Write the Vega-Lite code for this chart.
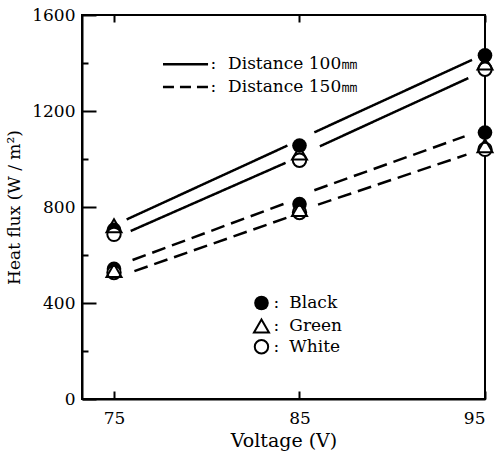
{
  "$schema": "https://vega.github.io/schema/vega-lite/v6.json",
  "width": 403,
  "height": 384,
  "autosize": "none",
  "padding": {"left": 82, "top": 15, "right": 15, "bottom": 55},
  "background": "white",
  "config": {
    "font": "DejaVu Serif",
    "view": {"stroke": "black", "strokeWidth": 2},
    "axis": {"grid": false, "labelColor": "black", "titleColor": "black", "tickColor": "black", "domainColor": "black", "labelFont": "DejaVu Serif", "titleFont": "DejaVu Serif", "titleFontWeight": "normal"}
  },
  "datasets": {
    "lines": [
      {"seg": "u100a", "style": "solid", "v": 75.68, "q": 748},
      {"seg": "u100a", "style": "solid", "v": 84.35, "q": 1056},
      {"seg": "u100b", "style": "solid", "v": 85.8, "q": 1111},
      {"seg": "u100b", "style": "solid", "v": 94.3, "q": 1413},
      {"seg": "l100a", "style": "solid", "v": 75.9, "q": 700},
      {"seg": "l100a", "style": "solid", "v": 84.25, "q": 984},
      {"seg": "l100b", "style": "solid", "v": 86.1, "q": 1053},
      {"seg": "l100b", "style": "solid", "v": 94.1, "q": 1337},
      {"seg": "u150a", "style": "dash", "v": 76.0, "q": 579},
      {"seg": "u150a", "style": "dash", "v": 84.3, "q": 817},
      {"seg": "u150b", "style": "dash", "v": 85.8, "q": 870},
      {"seg": "u150b", "style": "dash", "v": 93.9, "q": 1094},
      {"seg": "l150a", "style": "dash", "v": 76.1, "q": 533},
      {"seg": "l150a", "style": "dash", "v": 84.35, "q": 756},
      {"seg": "l150b", "style": "dash", "v": 86.0, "q": 810},
      {"seg": "l150b", "style": "dash", "v": 94.0, "q": 1018},
      {"seg": "leg100", "style": "solid", "v": 77.64, "q": 1395},
      {"seg": "leg100", "style": "solid", "v": 80.07, "q": 1395},
      {"seg": "leg150", "style": "legdash", "v": 77.64, "q": 1300},
      {"seg": "leg150", "style": "legdash", "v": 80.07, "q": 1300}
    ],
    "pts": [
      {"v": 75, "q": 705, "c": "Black"},
      {"v": 75, "q": 722, "c": "Green"},
      {"v": 75, "q": 686, "c": "White"},
      {"v": 75, "q": 542, "c": "Black"},
      {"v": 75, "q": 535, "c": "Green"},
      {"v": 75, "q": 527, "c": "White"},
      {"v": 85, "q": 1056, "c": "Black"},
      {"v": 85, "q": 1025, "c": "Green"},
      {"v": 85, "q": 995, "c": "White"},
      {"v": 85, "q": 812, "c": "Black"},
      {"v": 85, "q": 790, "c": "Green"},
      {"v": 85, "q": 777, "c": "White"},
      {"v": 95, "q": 1432, "c": "Black"},
      {"v": 95, "q": 1400, "c": "Green"},
      {"v": 95, "q": 1374, "c": "White"},
      {"v": 95, "q": 1110, "c": "Black"},
      {"v": 95, "q": 1055, "c": "Green"},
      {"v": 95, "q": 1040, "c": "White"},
      {"v": 82.95, "q": 400, "c": "Black"},
      {"v": 82.95, "q": 304, "c": "Green"},
      {"v": 82.95, "q": 218, "c": "White"}
    ],
    "labels": [
      {"v": 80.2, "q": 1395, "t": ":"},
      {"v": 81.15, "q": 1395, "t": "Distance 100㎜"},
      {"v": 80.2, "q": 1300, "t": ":"},
      {"v": 81.15, "q": 1300, "t": "Distance 150㎜"},
      {"v": 83.6, "q": 400, "t": ":"},
      {"v": 84.45, "q": 400, "t": "Black"},
      {"v": 83.6, "q": 304, "t": ":"},
      {"v": 84.45, "q": 304, "t": "Green"},
      {"v": 83.6, "q": 218, "t": ":"},
      {"v": 84.45, "q": 218, "t": "White"}
    ]
  },
  "layer": [
    {
      "data": {"name": "lines"},
      "mark": {"type": "line", "color": "black", "strokeWidth": 2.5, "strokeCap": "butt"},
      "encoding": {
        "x": {"field": "v", "type": "quantitative", "scale": {"domain": [73.275, 95], "nice": false, "zero": false},
          "axis": {"orient": "bottom", "values": [75, 85, 95], "format": "d", "tickSize": -8, "tickWidth": 2, "domainWidth": 2, "labelFontSize": 17, "labelPadding": 19, "title": "Voltage (V)", "titleFontSize": 19, "titlePadding": 5}},
        "y": {"field": "q", "type": "quantitative", "scale": {"domain": [0, 1600], "nice": false},
          "axis": {"orient": "left", "values": [0, 400, 800, 1200, 1600], "format": "d", "tickSize": -14, "tickWidth": 2, "domainWidth": 2, "labelFontSize": 17, "labelPadding": 21, "title": "Heat flux (W / m²)", "titleFontSize": 17, "titlePadding": 8}},
        "detail": {"field": "seg", "type": "nominal"},
        "strokeDash": {"field": "style", "type": "nominal", "legend": null,
          "scale": {"domain": ["solid", "dash", "legdash"], "range": [[1, 0], [14, 7], [11, 6]]}}
      }
    },
    {
      "data": {"name": "pts"},
      "transform": [{"filter": "datum.c === 'Black'"}],
      "mark": {"type": "point", "shape": "circle", "filled": true, "fill": "black", "stroke": "black", "strokeWidth": 0, "size": 214, "opacity": 1},
      "encoding": {
        "x": {"field": "v", "type": "quantitative", "scale": {"domain": [73.275, 95], "nice": false, "zero": false},
          "axis": {"orient": "top", "values": [75, 85, 95], "labels": false, "domain": false, "tickSize": -7, "tickWidth": 2, "title": null}},
        "y": {"field": "q", "type": "quantitative", "scale": {"domain": [0, 1600], "nice": false},
          "axis": {"orient": "left", "values": [200, 600, 1000, 1400], "labels": false, "domain": false, "tickSize": -6, "tickWidth": 2, "title": null}}
      }
    },
    {
      "data": {"name": "pts"},
      "transform": [{"filter": "datum.c === 'White'"}],
      "mark": {"type": "point", "shape": "circle", "filled": false, "fill": "white", "fillOpacity": 1, "stroke": "black", "strokeWidth": 2, "size": 180, "opacity": 1},
      "encoding": {
        "x": {"field": "v", "type": "quantitative", "axis": null},
        "y": {"field": "q", "type": "quantitative", "axis": null}
      }
    },
    {
      "data": {"name": "pts"},
      "transform": [{"filter": "datum.c === 'Green'"}],
      "mark": {"type": "point", "shape": "triangle-up", "filled": false, "stroke": "black", "strokeWidth": 2, "size": 225, "opacity": 1},
      "encoding": {
        "x": {"field": "v", "type": "quantitative", "axis": null},
        "y": {"field": "q", "type": "quantitative", "axis": null}
      }
    },
    {
      "data": {"name": "labels"},
      "mark": {"type": "text", "align": "left", "baseline": "middle", "fontSize": 17, "color": "black", "font": "DejaVu Serif"},
      "encoding": {
        "x": {"field": "v", "type": "quantitative", "axis": null},
        "y": {"field": "q", "type": "quantitative", "axis": null},
        "text": {"field": "t"}
      }
    }
  ],
  "resolve": {"axis": {"x": "independent", "y": "independent"}}
}
